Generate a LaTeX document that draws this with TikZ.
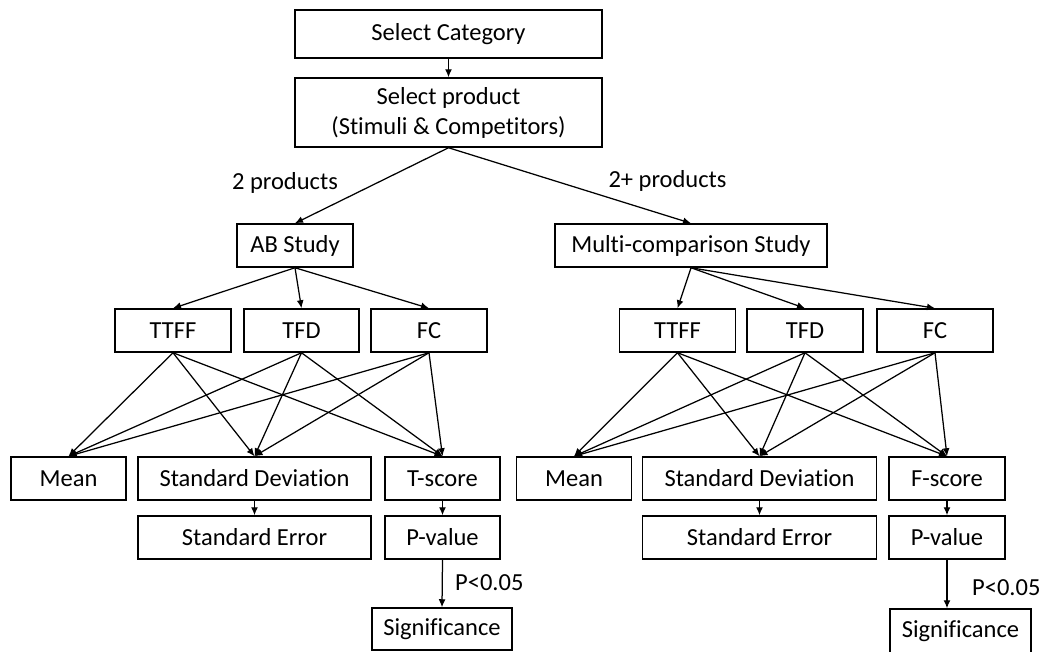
\documentclass[tikz,border=0pt]{standalone}
\usepackage{fontspec}
\setmainfont[Ligatures={NoCommon}]{Carlito}
\usetikzlibrary{arrows.meta}
\begin{document}
\begin{tikzpicture}[x=1pt,y=-1pt,
  box/.style={draw, line width=1.5pt, inner sep=0pt, minimum height=43pt,
    font=\fontsize{24.5}{30}\selectfont, align=center},
  lbl/.style={inner sep=0pt, font=\fontsize{24.5}{30}\selectfont},
  arr/.style={line width=1.25pt, -{Latex[length=8pt,width=7pt]}}]
\useasboundingbox (0,0) rectangle (1042,651);

% top of the flow
\node[box, minimum width=307pt, minimum height=48pt] (cat) at (448.5,34) {Select Category};
\node[box, minimum width=307pt, minimum height=69pt] (prod) at (448.5,112.5) {Select product\\(Stimuli \& Competitors)};
\node[box, minimum width=116pt] (ab) at (295,245.5) {AB Study};
\node[box, minimum width=272pt] (mc) at (691,245.5) {Multi-comparison Study};
\node[lbl] (two) at (285,183) {2 products};
\node[lbl] (more) at (667.5,181) {2+ products};

% AB branch
\node[box, minimum width=116pt] (lttff) at (173,330.5) {TTFF};
\node[box, minimum width=115pt] (ltfd) at (301.5,330.5) {TFD};
\node[box, minimum width=116pt] (lfc) at (429,330.5) {FC};
\node[box, minimum width=115pt] (lmean) at (68.5,478.5) {Mean};
\node[box, minimum width=233pt] (lsd) at (254.5,478.5) {Standard Deviation};
\node[box, minimum width=115pt] (lt) at (442.5,478.5) {T-score};
\node[box, minimum width=233pt] (lse) at (254.5,537.5) {Standard Error};
\node[box, minimum width=115pt] (lp) at (442.5,537.5) {P-value};
\node[box, minimum width=140pt, minimum height=42pt] (lsig) at (442,629) {Significance};
\node[lbl, anchor=west] (lpl) at (455,583) {P<0.05};

% multi-comparison branch
\node[box, minimum width=116pt] (rttff) at (677.5,330.5) {TTFF};
\node[box, minimum width=116pt] (rtfd) at (805,330.5) {TFD};
\node[box, minimum width=116pt] (rfc) at (935,330.5) {FC};
\node[box, minimum width=115pt] (rmean) at (574,478.5) {Mean};
\node[box, minimum width=234pt] (rsd) at (759.5,478.5) {Standard Deviation};
\node[box, minimum width=116pt] (rf) at (947,478.5) {F-score};
\node[box, minimum width=234pt] (rse) at (759.5,537.5) {Standard Error};
\node[box, minimum width=116pt] (rp) at (947,537.5) {P-value};
\node[box, minimum width=141pt, minimum height=44pt] (rsig) at (960.5,631) {Significance};
\node[lbl, anchor=west] (rpl) at (972,588) {P<0.05};

% connectors
\draw[arr] (cat.south) -- (prod.north);
\draw[arr] (prod.south) -- (ab.north);
\draw[arr] (prod.south) -- (mc.north);
\foreach \t in {lttff,ltfd,lfc} \draw[arr] (ab.south) -- (\t.north);
\foreach \t in {rttff,rtfd,rfc} \draw[arr] (mc.south) -- (\t.north);
\foreach \s in {lttff,ltfd,lfc}
  \foreach \t in {lmean,lsd,lt} \draw[arr] (\s.south) -- (\t.north);
\foreach \s in {rttff,rtfd,rfc}
  \foreach \t in {rmean,rsd,rf} \draw[arr] (\s.south) -- (\t.north);
\draw[arr] (lsd.south) -- (lse.north);
\draw[arr] (lt.south) -- (lp.north);
\draw[arr] (lp.south) -- (lsig.north);
\draw[arr] (rsd.south) -- (rse.north);
\draw[arr] (rf.south) -- (rp.north);
\draw[arr] (rp.south) -- (rp.south |- rsig.north);
\end{tikzpicture}
\end{document}
